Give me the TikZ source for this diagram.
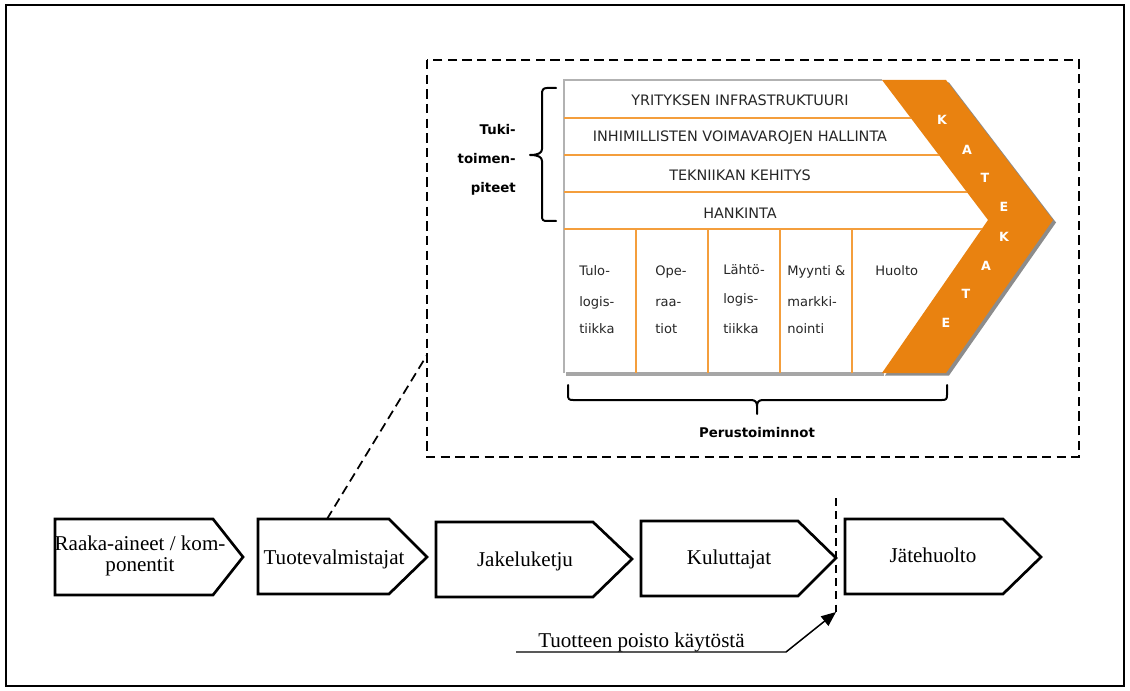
\documentclass[tikz,border=0pt]{standalone}
\usepackage{fontspec}
\setmainfont{Liberation Serif}
\newfontfamily\vfont{DejaVu Sans}
\usetikzlibrary{arrows.meta}
\definecolor{vcorange}{RGB}{233,130,16}
\definecolor{vcline}{RGB}{244,158,60}
\begin{document}
\begin{tikzpicture}[x=0.75pt,y=-0.75pt,
  frame/.style={draw=black,line width=1.5pt},
  zoomline/.style={draw=black,line width=1.3pt,dash pattern=on 7pt off 4pt},
  chainbox/.style={draw=black,line width=2pt,line join=miter},
  chaintext/.style={font=\fontsize{15.8}{15.8}\selectfont,inner sep=0pt},
  rowtext/.style={font=\vfont\fontsize{10.8}{13}\selectfont,text=black!85,inner sep=0pt},
  coltext/.style={font=\vfont\fontsize{9.8}{12}\selectfont,text=black!85,inner sep=0pt,anchor=base west},
  boldlabel/.style={font=\vfont\bfseries\fontsize{10}{12}\selectfont,inner sep=0pt},
  katext/.style={font=\vfont\bfseries\fontsize{9.5}{11}\selectfont,text=white,inner sep=0pt},
  rowline/.style={draw=vcline,line width=0.9pt},
  colline/.style={draw=vcline,line width=0.8pt},
  brace/.style={draw=black,line width=1.5pt,line join=round,line cap=round}]
\useasboundingbox (0,0) rectangle (1130,691);

% outer frame
\draw[frame] (6,5) rectangle (1124,686);

% detail box of the value chain
\draw[zoomline] (427,60) rectangle (1079,457);
\coordinate (zoomA) at (427,355);

% ---------- value chain ----------
% shadows
\fill[black!35] (566,372) rectangle (884,375.5);
\fill[black!45] (885,82.5) -- (949,82.5) -- (1056,222.5) -- (949,375.5) -- (885,375.5) -- (991,222.5) -- cycle;
% white body borders
\draw[black!30,line width=0.8pt] (564,373) -- (564,80) -- (882,80);
% separators inside the white body
\begin{scope}
  \clip (564,80) -- (882,80) -- (988,220) -- (882,373) -- (564,373) -- cycle;
  \foreach \yy in {118,155,192,229} \draw[rowline] (564,\yy) -- (1000,\yy);
  \foreach \xx in {636,708,780,852} \draw[colline] (\xx,229) -- (\xx,373);
\end{scope}
% margin chevron
\fill[vcorange] (882,80) -- (946,80) -- (1053,220) -- (946,373) -- (882,373) -- (988,220) -- cycle;

% support activities
\node[rowtext] (r1) at (740,100) {YRITYKSEN INFRASTRUKTUURI};
\node[rowtext] (r2) at (740,138) {INHIMILLISTEN VOIMAVAROJEN HALLINTA};
\node[rowtext] (r3) at (740,175.5) {TEKNIIKAN KEHITYS};
\node[rowtext] (r4) at (740,213) {HANKINTA};

% primary activities
\node[coltext] (c1a) at (579,276) {Tulo-};
\node[coltext] (c1b) at (579,306) {logis-};
\node[coltext] (c1c) at (579,334) {tiikka};
\node[coltext] (c2a) at (655,276) {Ope-};
\node[coltext] (c2b) at (655,306) {raa-};
\node[coltext] (c2c) at (655,334) {tiot};
\node[coltext] (c3a) at (723,275) {Lähtö-};
\node[coltext] (c3b) at (723,304) {logis-};
\node[coltext] (c3c) at (723,333) {tiikka};
\node[coltext] (c4a) at (787,276) {Myynti \&};
\node[coltext] (c4b) at (787,306) {markki-};
\node[coltext] (c4c) at (787,334) {nointi};
\node[coltext] (c5a) at (875,276) {Huolto};

% margin letters
\foreach \ch/\px/\py [count=\i] in {K/942/120,A/967/150,T/985/178,E/1004/207,K/1004/237,A/986/266,T/966/294,E/946/323}
  \node[katext] (m\i) at (\px,\py) {\ch};

% braces and their labels
\draw[brace] (556,88) -- (547,88) .. controls (543,88) and (542,90) .. (542,94)
  -- (542,149) .. controls (542,153) and (538,155) .. (530,155)
  .. controls (538,155) and (542,157) .. (542,161)
  -- (542,216) .. controls (542,220) and (543,221) .. (547,221) -- (556,221);
\node[boldlabel,anchor=base east] (t1) at (516,135) {Tuki-};
\node[boldlabel,anchor=base east] (t2) at (516,164) {toimen-};
\node[boldlabel,anchor=base east] (t3) at (516,193) {piteet};

\draw[brace] (568,385) -- (568,395) .. controls (568,399) and (569,400) .. (573,400)
  -- (751,400) .. controls (755,400) and (757,402) .. (757,406) -- (757,414)
  (757,406) .. controls (757,402) and (759,400) .. (763,400)
  -- (942,400) .. controls (946,400) and (947,399) .. (947,395) -- (947,385);
\node[boldlabel] (perus) at (757,433) {Perustoiminnot};

% ---------- product life cycle ----------
\draw[chainbox] (55,519) -- (213,519) -- (243,557) -- (213,595) -- (55,595) -- cycle;
\draw[chainbox] (258,519) -- (389,519) -- (427,557) -- (389,594) -- (258,594) -- cycle;
\draw[chainbox] (436,522) -- (593,522) -- (632,559) -- (593,597) -- (436,597) -- cycle;
\draw[chainbox] (641,521) -- (798,521) -- (836,558) -- (798,596) -- (641,596) -- cycle;
\draw[chainbox] (845,519) -- (1003,519) -- (1041,557) -- (1003,594) -- (845,594) -- cycle;
\coordinate (b2top) at (327,519);

\node[chaintext,align=center] (s1) at (140,556) {Raaka-aineet / kom-\\ponentit};
\node[chaintext,anchor=base] (s2) at (334,564) {Tuotevalmistajat};
\node[chaintext,anchor=base] (s3) at (525,566) {Jakeluketju};
\node[chaintext,anchor=base] (s4) at (729,564) {Kuluttajat};
\node[chaintext,anchor=base] (s5) at (933,562) {Jätehuolto};

% link from the manufacturer to the detail box
\draw[zoomline] (b2top) -- (zoomA);

% end of use
\coordinate (cutTop) at (836,498);
\coordinate (cutBot) at (836,612);
\draw[black,line width=1.3pt,dash pattern=on 6pt off 4pt] (cutTop) -- (cutBot);
\coordinate (endStart) at (516,652);
\draw[black,line width=1.1pt,-{Triangle[length=11pt,width=9pt]}] (endStart) -- (786,652) -- (cutBot);
\node[chaintext,anchor=base west] (endLbl) at (538,647) {Tuotteen poisto käytöstä};
\end{tikzpicture}
\end{document}
